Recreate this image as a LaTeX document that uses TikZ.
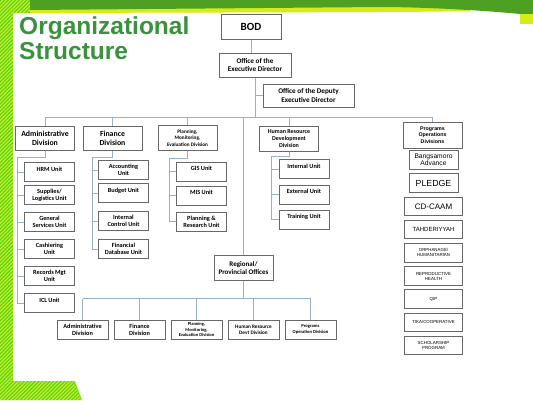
\documentclass[tikz,border=0pt]{standalone}
\usepackage{fontspec}
\setmainfont{Carlito}
\newfontfamily\arialfont{Liberation Sans}
\usetikzlibrary{positioning,patterns.meta}
\definecolor{BandGreen}{RGB}{78,160,34}
\definecolor{BandLime}{RGB}{214,236,24}
\definecolor{StripGreen}{RGB}{92,214,24}
\definecolor{StripLime}{RGB}{210,236,40}
\definecolor{TitleGreen}{RGB}{58,146,62}
\definecolor{BoxGray}{RGB}{104,104,104}
\definecolor{LinkBlue}{RGB}{150,176,202}
\tikzset{
  headbox/.style={draw=BoxGray, fill=white, line width=1pt, inner sep=1pt,
    align=center, font=\bfseries\fontsize{7.2}{8.2}\selectfont},
  division/.style={headbox, minimum width=59pt, minimum height=24pt},
  smalldiv/.style={division, minimum width=51pt, minimum height=19pt},
  unitbox/.style={headbox, minimum width=50pt, minimum height=19pt,
    font=\bfseries\fontsize{6.3}{7.2}\selectfont},
  oneline/.style={text depth=6pt},
  progbox/.style={headbox, minimum width=58pt, minimum height=18.5pt,
    font=\arialfont\fontsize{4.4}{5}\selectfont},
  link/.style={draw=LinkBlue, line width=0.9pt}
}
\begin{document}
\begin{tikzpicture}[x=1pt, y=-1pt]
  \useasboundingbox (0,0) rectangle (533,400);
  % slide background
  \fill[white] (0,0) rectangle (533,400);
  \fill[StripGreen] (0,0) -- (30,0) -- (30,13) -- (13,13) -- (13,381)
    -- (75,381) -- (82,400) -- (0,400) -- cycle;
  \fill[pattern={Lines[angle=45, distance=2.6pt, line width=1.1pt]}, pattern color=StripLime]
    (0,0) -- (30,0) -- (30,13) -- (13,13) -- (13,381)
    -- (75,381) -- (82,400) -- (0,400) -- cycle;
  \fill[BandLime] (30,0) -- (470,0) -- (470,11) .. controls (420,12) .. (30,13) -- cycle;
  \fill[BandGreen] (30,0) -- (533,0) -- (533,14) -- (520,14)
    .. controls (480,10) and (420,7) .. (380,7) -- (30,10) -- cycle;
  \fill[BandLime] (520,14) rectangle (533,24);

  \node[anchor=north west, inner sep=0pt, align=left, text=TitleGreen,
    font=\arialfont\bfseries\fontsize{24.5}{24.5}\selectfont] (title) at (19,17)
    {Organizational\\Structure};

  % top offices
  \node[headbox, minimum width=60pt, minimum height=25pt,
    font=\bfseries\fontsize{11}{12}\selectfont] (bod) at (251,26.5) {BOD};
  \node[headbox, minimum width=72pt, minimum height=24pt] (ed) at (255,65)
    {Office of the\\Executive Director};
  \node[headbox, minimum width=91pt, minimum height=23pt] (deputy) at (308.5,95.5)
    {Office of the Deputy\\Executive Director};

  % divisions
  \node[division, font=\bfseries\fontsize{7.8}{9}\selectfont] (admin) at (45,138)
    {Administrative\\Division};
  \node[division, font=\bfseries\fontsize{7.8}{9}\selectfont] (finance) at (112.5,138)
    {Finance\\Division};
  \node[division, minimum height=25pt, font=\bfseries\fontsize{5.2}{6.5}\selectfont]
    (planning) at (187.5,138) {Planning,\\Monitoring,\\Evaluation Division};
  \node[division, minimum height=25pt, font=\bfseries\fontsize{6}{7}\selectfont]
    (hr) at (289,138.5) {Human Resource\\Development\\Division};
  \node[division, minimum height=26pt, font=\arialfont\bfseries\fontsize{5.3}{6.3}\selectfont]
    (programs) at (432.5,135) {Programs\\Operations\\Divisions};

  % administrative units
  \node[unitbox, oneline] (hrm) at (49.5,172) {HRM Unit};
  \node[unitbox, below=3pt of hrm] (supplies) {Supplies/\\Logistics Unit};
  \node[unitbox, below=7pt of supplies] (general) {General\\Services Unit};
  \node[unitbox, below=7pt of general] (cashiering) {Cashiering\\Unit};
  \node[unitbox, below=7pt of cashiering] (records) {Records Mgt\\Unit};
  \node[unitbox, oneline, below=7pt of records] (icl) {ICL Unit};

  % finance units
  \node[unitbox] (accounting) at (123.5,170) {Accounting\\Unit};
  \node[unitbox, oneline, below=3pt of accounting] (budget) {Budget Unit};
  \node[unitbox, below=8pt of budget] (control) {Internal\\Control Unit};
  \node[unitbox, below=8pt of control] (database) {Financial\\Database Unit};

  % planning units
  \node[unitbox, oneline] (gis) at (201.5,171.5) {GIS Unit};
  \node[unitbox, oneline, below=4pt of gis] (mis) {MIS Unit};
  \node[unitbox, below=6pt of mis] (research) {Planning \&\\Research Unit};

  % human resource units
  \node[unitbox, oneline] (internal) at (304,169) {Internal Unit};
  \node[unitbox, oneline, below=5.5pt of internal] (external) {External Unit};
  \node[unitbox, oneline, below=5pt of external] (training) {Training Unit};

  % programs
  \node[progbox, minimum width=49pt, font=\arialfont\fontsize{6.7}{7.2}\selectfont]
    (bangsamoro) at (433.5,160) {Bangsamoro\\Advance};
  \node[progbox, minimum width=49pt, below=3.7pt of bangsamoro,
    font=\arialfont\fontsize{8.8}{9}\selectfont] (pledge) {PLEDGE};
  \node[progbox, below=3.7pt of pledge, font=\arialfont\fontsize{8}{9}\selectfont]
    (cdcaam) {CD-CAAM};
  \node[progbox, below=3.7pt of cdcaam, font=\arialfont\fontsize{6}{7}\selectfont]
    (tahderiyyah) {TAHDERIYYAH};
  \node[progbox, below=3.7pt of tahderiyyah] (orphanage) {ORPHANAGE/\\HUMANITARIAN};
  \node[progbox, below=3.7pt of orphanage] (reproductive) {REPRODUCTIVE\\HEALTH};
  \node[progbox, below=3.7pt of reproductive] (qip) {QIP};
  \node[progbox, below=3.7pt of qip] (tika) {TIKA/COOPERATIVE};
  \node[progbox, below=3.7pt of tika] (scholarship) {SCHOLARSHIP\\PROGRAM};

  % regional offices
  \node[division, minimum height=25pt, font=\bfseries\fontsize{7}{8.2}\selectfont]
    (regional) at (243.5,268) {Regional/\\Provincial Offices};
  \node[smalldiv, font=\bfseries\fontsize{6.3}{7.3}\selectfont] (radmin) at (82.5,329.5)
    {Administrative\\Division};
  \node[smalldiv, right=5pt of radmin, font=\bfseries\fontsize{6.3}{7.3}\selectfont]
    (rfinance) {Finance\\Division};
  \node[smalldiv, right=5pt of rfinance, font=\bfseries\fontsize{4.5}{5.2}\selectfont]
    (rplanning) {Planning,\\Monitoring,\\Evaluation Division};
  \node[smalldiv, right=5pt of rplanning, font=\bfseries\fontsize{5.2}{6.2}\selectfont]
    (rhr) {Human Resource\\Devt Division};
  \node[smalldiv, right=5pt of rhr, font=\bfseries\fontsize{4.6}{5.4}\selectfont]
    (rprograms) {Programs\\Operation Division};

  % connectors
  \draw[link] (bod) -- (bod |- ed.north);
  \draw[link] (ed.south) -- ++(0,40) coordinate (bus);
  \draw[link] (deputy.west) -- (deputy.west -| ed.south);
  \draw[link] (bus -| admin.north) -- (bus -| programs.north);
  \foreach \n in {admin,finance,planning,hr,programs,regional}
    \draw[link] (bus -| \n.north) -- (\n.north);

  \draw[link] (admin.south) -- ++(0,7) -| ([xshift=-7pt]icl.west) -- (icl.west);
  \foreach \u in {hrm,supplies,general,cashiering,records}
    \draw[link] ([xshift=-7pt]\u.west) -- (\u.west);
  \draw[link] (finance.south) -- ++(0,7) -| ([xshift=-6pt]database.west) -- (database.west);
  \foreach \u in {accounting,budget,control}
    \draw[link] ([xshift=-6pt]\u.west) -- (\u.west);
  \draw[link] (planning.south) -- ++(0,7) -| ([xshift=-7pt]research.west) -- (research.west);
  \foreach \u in {gis,mis}
    \draw[link] ([xshift=-7pt]\u.west) -- (\u.west);
  \draw[link] (hr.south) -- ++(0,5) -| ([xshift=-7pt]training.west) -- (training.west);
  \foreach \u in {internal,external}
    \draw[link] ([xshift=-7pt]\u.west) -- (\u.west);

  \draw[link] (regional.south) -- ++(0,17.5) coordinate (rbus);
  \draw[link] (rbus -| radmin.north) -- (rbus -| rprograms.north);
  \foreach \n in {radmin,rfinance,rplanning,rhr,rprograms}
    \draw[link] (rbus -| \n.north) -- (\n.north);
\end{tikzpicture}
\end{document}
